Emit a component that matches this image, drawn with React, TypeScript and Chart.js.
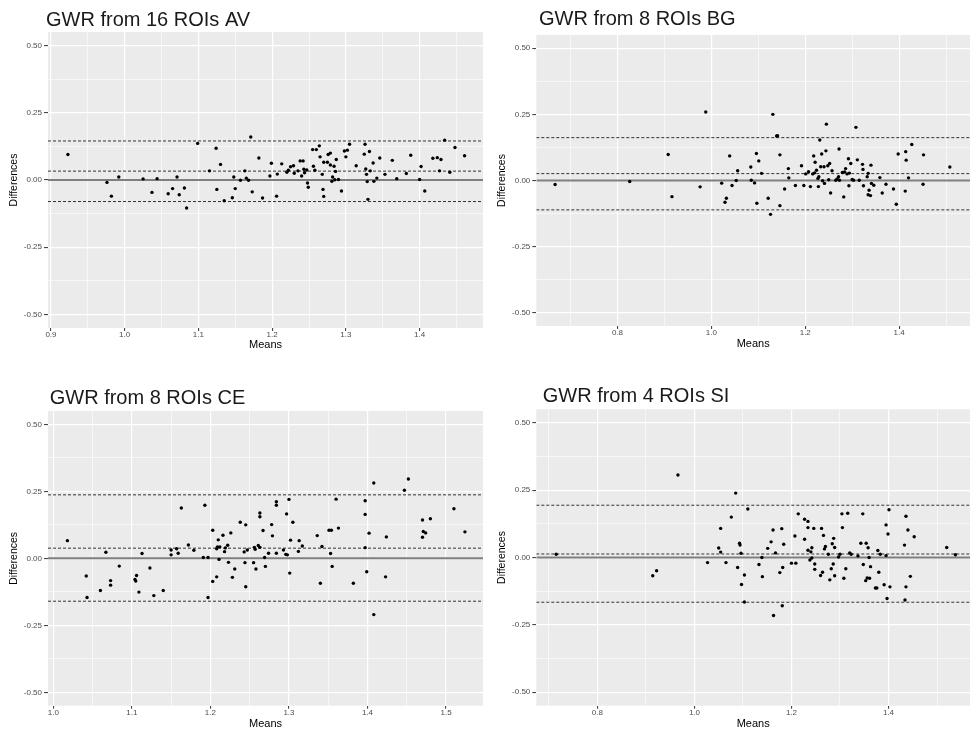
import React, { useEffect, useRef } from "react";
import { Chart, registerables } from "chart.js";

Chart.register(...registerables);

// ---------- DATA ----------
const panelTitles = ["GWR from 16 ROIs AV", "GWR from 8 ROIs BG", "GWR from 8 ROIs CE", "GWR from 4 ROIs SI"];
const xAxisTitle = "Means";
const yAxisTitle = "Differences";
const yTicks = [-0.5, -0.25, 0, 0.25, 0.5];

const avXTicks = [0.9, 1.0, 1.1, 1.2, 1.3, 1.4];
const bgXTicks = [0.8, 1.0, 1.2, 1.4];
const ceXTicks = [1.0, 1.1, 1.2, 1.3, 1.4, 1.5];
const siXTicks = [0.8, 1.0, 1.2, 1.4];

// [upper limit, mean difference, lower limit]
const avLimits = [0.145, 0.033, -0.08];
const bgLimits = [0.162, 0.026, -0.111];
const ceLimits = [0.237, 0.038, -0.16];
const siLimits = [0.194, 0.013, -0.166];

const avMeans = [0.923, 0.976, 0.982, 0.992, 1.025, 1.037, 1.044, 1.059, 1.065, 1.071, 1.074, 1.081, 1.084, 1.099, 1.115, 1.124, 1.125, 1.13, 1.135, 1.146, 1.148, 1.15, 1.157, 1.163, 1.165, 1.168, 1.171, 1.173, 1.182, 1.187, 1.197, 1.199, 1.206, 1.207, 1.213, 1.22, 1.222, 1.225, 1.229, 1.23, 1.235, 1.238, 1.24, 1.242, 1.243, 1.244, 1.247, 1.248, 1.249, 1.255, 1.256, 1.258, 1.26, 1.264, 1.265, 1.268, 1.269, 1.27, 1.27, 1.275, 1.276, 1.279, 1.279, 1.281, 1.282, 1.284, 1.285, 1.286, 1.287, 1.29, 1.294, 1.298, 1.3, 1.302, 1.305, 1.314, 1.325, 1.326, 1.327, 1.328, 1.329, 1.33, 1.332, 1.333, 1.337, 1.338, 1.342, 1.346, 1.353, 1.363, 1.369, 1.382, 1.388, 1.4, 1.402, 1.407, 1.418, 1.424, 1.427, 1.429, 1.434, 1.441, 1.448, 1.461];
const avDiffs = [0.095, -0.009, -0.06, 0.011, 0.004, -0.046, 0.005, -0.051, -0.032, 0.011, -0.055, -0.03, -0.104, 0.136, 0.034, 0.118, -0.035, 0.058, -0.077, -0.066, 0.011, -0.032, -0.001, 0.034, 0.007, -0.001, 0.16, -0.044, 0.082, -0.067, 0.015, 0.062, -0.06, 0.022, 0.06, 0.029, 0.036, 0.049, 0.053, 0.025, 0.034, 0.071, 0.015, 0.071, 0.04, 0.027, 0.037, -0.011, -0.027, 0.113, 0.051, 0.036, 0.113, 0.127, 0.086, 0.021, -0.035, 0.066, -0.061, 0.066, 0.095, 0.1, 0.056, -0.005, 0.011, 0.051, 0.001, 0.032, 0.076, 0.002, -0.041, 0.108, 0.086, 0.111, 0.133, 0.053, 0.096, 0.133, 0.041, 0.021, -0.006, -0.072, 0.106, 0.034, 0.063, -0.005, 0.007, 0.082, 0.021, 0.073, 0.005, 0.024, 0.092, 0.002, 0.05, -0.041, 0.081, 0.083, 0.034, 0.076, 0.148, 0.029, 0.121, 0.09];

const bgMeans = [0.667, 0.826, 0.908, 0.916, 0.976, 0.988, 1.022, 1.029, 1.032, 1.039, 1.044, 1.053, 1.056, 1.084, 1.085, 1.092, 1.096, 1.097, 1.101, 1.107, 1.121, 1.126, 1.131, 1.139, 1.141, 1.146, 1.146, 1.156, 1.164, 1.165, 1.179, 1.192, 1.197, 1.201, 1.207, 1.211, 1.216, 1.218, 1.22, 1.221, 1.224, 1.227, 1.228, 1.229, 1.231, 1.233, 1.235, 1.237, 1.24, 1.241, 1.244, 1.245, 1.248, 1.25, 1.252, 1.254, 1.257, 1.265, 1.268, 1.271, 1.272, 1.273, 1.279, 1.282, 1.284, 1.286, 1.289, 1.292, 1.293, 1.294, 1.297, 1.3, 1.303, 1.308, 1.311, 1.315, 1.322, 1.323, 1.324, 1.332, 1.334, 1.334, 1.336, 1.339, 1.34, 1.341, 1.346, 1.359, 1.364, 1.372, 1.388, 1.394, 1.398, 1.413, 1.414, 1.415, 1.42, 1.427, 1.451, 1.452, 1.508];
const bgDiffs = [-0.015, -0.004, 0.098, -0.061, -0.024, 0.259, -0.01, -0.082, -0.067, 0.093, -0.019, 0.0, 0.037, 0.051, 0.001, -0.009, 0.102, -0.086, 0.074, 0.027, -0.067, -0.128, 0.25, 0.168, 0.169, 0.097, -0.095, -0.032, 0.045, 0.01, -0.019, 0.056, -0.019, 0.025, 0.033, -0.023, 0.025, 0.093, 0.029, 0.069, 0.039, 0.008, -0.023, 0.014, 0.153, 0.052, 0.1, -0.001, 0.052, -0.011, 0.112, 0.213, 0.056, 0.003, 0.064, -0.047, 0.037, 0.001, 0.006, 0.014, 0.119, 0.001, 0.03, -0.062, 0.032, 0.045, 0.025, 0.082, -0.02, 0.028, 0.064, 0.004, 0.001, 0.201, 0.078, 0.001, 0.061, 0.042, -0.02, 0.014, 0.027, -0.054, -0.037, -0.057, 0.058, -0.011, -0.018, 0.011, -0.047, -0.014, -0.032, -0.09, 0.1, -0.04, 0.109, 0.077, 0.01, 0.136, -0.014, 0.097, 0.051];

const ceMeans = [1.018, 1.042, 1.043, 1.06, 1.067, 1.073, 1.073, 1.084, 1.104, 1.105, 1.106, 1.109, 1.113, 1.123, 1.128, 1.14, 1.15, 1.15, 1.157, 1.159, 1.163, 1.172, 1.179, 1.191, 1.193, 1.197, 1.197, 1.203, 1.203, 1.208, 1.208, 1.209, 1.21, 1.211, 1.212, 1.216, 1.218, 1.219, 1.222, 1.223, 1.226, 1.228, 1.231, 1.238, 1.243, 1.244, 1.245, 1.245, 1.247, 1.255, 1.256, 1.257, 1.258, 1.261, 1.263, 1.263, 1.263, 1.267, 1.269, 1.27, 1.274, 1.278, 1.279, 1.284, 1.284, 1.284, 1.293, 1.296, 1.297, 1.298, 1.3, 1.301, 1.302, 1.305, 1.312, 1.313, 1.317, 1.336, 1.34, 1.342, 1.351, 1.354, 1.353, 1.355, 1.36, 1.363, 1.382, 1.397, 1.397, 1.397, 1.399, 1.402, 1.408, 1.408, 1.423, 1.424, 1.447, 1.452, 1.47, 1.47, 1.471, 1.474, 1.48, 1.51, 1.524];
const ceDiffs = [0.066, -0.066, -0.146, -0.12, 0.023, -0.083, -0.1, -0.029, -0.079, -0.085, -0.064, -0.126, 0.018, -0.036, -0.139, -0.12, 0.031, 0.013, 0.036, 0.019, 0.188, 0.05, 0.03, 0.003, 0.198, 0.003, -0.146, -0.086, 0.105, -0.069, 0.036, 0.043, 0.069, -0.004, 0.043, 0.086, 0.025, 0.039, 0.049, -0.015, 0.095, -0.071, -0.04, 0.135, 0.024, -0.016, 0.125, -0.106, 0.031, -0.016, 0.041, 0.034, -0.04, 0.048, 0.169, 0.041, 0.155, 0.104, 0.003, -0.03, 0.019, 0.126, 0.084, 0.211, 0.198, 0.019, 0.031, 0.015, 0.166, 0.013, 0.22, -0.055, 0.068, 0.135, 0.026, 0.066, 0.046, 0.085, -0.093, 0.044, 0.105, 0.105, 0.018, -0.03, 0.221, 0.113, -0.093, 0.164, 0.215, 0.04, -0.05, 0.094, 0.281, -0.21, -0.069, 0.08, 0.254, 0.296, 0.143, 0.079, 0.1, 0.095, 0.148, 0.185, 0.099];

const siMeans = [0.715, 0.914, 0.922, 0.966, 1.027, 1.05, 1.054, 1.054, 1.065, 1.076, 1.085, 1.089, 1.093, 1.094, 1.096, 1.097, 1.103, 1.103, 1.11, 1.133, 1.139, 1.14, 1.151, 1.158, 1.162, 1.163, 1.167, 1.176, 1.18, 1.181, 1.182, 1.184, 1.2, 1.207, 1.209, 1.214, 1.227, 1.227, 1.234, 1.234, 1.234, 1.238, 1.24, 1.242, 1.242, 1.246, 1.248, 1.248, 1.26, 1.262, 1.264, 1.266, 1.268, 1.27, 1.276, 1.279, 1.282, 1.284, 1.286, 1.287, 1.289, 1.289, 1.297, 1.3, 1.304, 1.305, 1.308, 1.312, 1.316, 1.32, 1.323, 1.337, 1.343, 1.347, 1.348, 1.353, 1.354, 1.356, 1.358, 1.36, 1.361, 1.363, 1.373, 1.376, 1.378, 1.38, 1.383, 1.391, 1.395, 1.395, 1.397, 1.399, 1.401, 1.403, 1.433, 1.434, 1.436, 1.436, 1.44, 1.445, 1.453, 1.52, 1.538];
const siDiffs = [0.012, -0.068, -0.049, 0.306, -0.019, 0.035, 0.108, 0.02, -0.019, 0.15, 0.239, -0.037, 0.053, 0.046, 0.016, -0.1, -0.065, -0.165, 0.18, -0.026, 0.0, -0.071, 0.034, 0.058, 0.102, -0.215, 0.017, -0.056, 0.107, -0.179, -0.037, 0.049, -0.021, 0.08, -0.021, 0.162, 0.142, 0.068, 0.134, 0.111, 0.027, -0.009, 0.021, 0.036, -0.002, 0.108, -0.024, -0.044, -0.067, 0.108, -0.055, 0.082, 0.032, 0.041, 0.012, -0.083, -0.042, 0.051, -0.024, 0.071, -0.068, 0.037, 0.002, 0.012, 0.162, 0.111, -0.077, -0.042, 0.164, 0.017, 0.012, 0.006, 0.053, 0.162, -0.026, -0.086, 0.053, -0.076, 0.036, 0.0, -0.077, -0.034, -0.113, -0.113, 0.026, -0.055, 0.012, -0.101, 0.121, 0.007, -0.152, 0.087, 0.177, -0.109, 0.046, -0.158, 0.153, -0.109, 0.102, -0.07, 0.077, 0.037, 0.01];

// ---------- STYLE / LAYOUT ----------
const FONT = '"Liberation Sans", Arial, Helvetica, sans-serif';

type Layout = {
  left: number; top: number;
  padTop: number; padRight: number;
  yWidth: number; xHeight: number;
  xTitlePad: number; yTitlePad: number;
  titleX: number; titleBaseline: number;
  xMin: number; xMax: number;
};

type PanelDef = {
  title: string; means: number[]; diffs: number[]; limits: number[]; xTicks: number[]; xDigits: number; layout: Layout;
};

const panels: PanelDef[] = [
  { title: panelTitles[0], means: avMeans, diffs: avDiffs, limits: avLimits, xTicks: avXTicks, xDigits: 1,
    layout: { left: 0, top: 0, padTop: 32, padRight: 0, yWidth: 48, xHeight: 37, xTitlePad: 14.5, yTitlePad: 8.75, titleX: 46, titleBaseline: 26, xMin: 0.896, xMax: 1.486 } },
  { title: panelTitles[1], means: bgMeans, diffs: bgDiffs, limits: bgLimits, xTicks: bgXTicks, xDigits: 1,
    layout: { left: 487, top: 0, padTop: 35, padRight: 1.3, yWidth: 49.3, xHeight: 39, xTitlePad: 15.5, yTitlePad: 9.75, titleX: 52, titleBaseline: 25, xMin: 0.627, xMax: 1.551 } },
  { title: panelTitles[2], means: ceMeans, diffs: ceDiffs, limits: ceLimits, xTicks: ceXTicks, xDigits: 1,
    layout: { left: 0, top: 365, padTop: 46, padRight: 0, yWidth: 48, xHeight: 24.3, xTitlePad: 0.5, yTitlePad: 8.75, titleX: 49.7, titleBaseline: 39.3, xMin: 0.9933, xMax: 1.547 } },
  { title: panelTitles[3], means: siMeans, diffs: siDiffs, limits: siLimits, xTicks: siXTicks, xDigits: 1,
    layout: { left: 487, top: 365, padTop: 44.3, padRight: 0, yWidth: 49.3, xHeight: 24.3, xTitlePad: 0.5, yTitlePad: 9.75, titleX: 55.7, titleBaseline: 36.7, xMin: 0.674, xMax: 1.568 } },
];

function withMinors(major: number[], lo: number, hi: number): number[] {
  const step = major[1] - major[0];
  const out: number[] = [];
  for (let i = -1; i < major.length; i++) {
    const m = Math.round((major[0] + (i + 0.5) * step) * 1e6) / 1e6;
    if (m >= lo && m <= hi) out.push(m);
  }
  return major.concat(out).sort((a, b) => a - b);
}

const isIn = (arr: number[], v: number) => arr.some((a) => Math.abs(a - v) < 1e-6);

const bgPlugin = {
  id: "panelBg",
  beforeDraw(chart: any) {
    const { ctx, chartArea } = chart;
    ctx.save();
    ctx.fillStyle = "#EBEBEB";
    ctx.fillRect(chartArea.left, chartArea.top, chartArea.right - chartArea.left, chartArea.bottom - chartArea.top);
    ctx.restore();
  },
};

const titlePlugin = {
  id: "panelTitle",
  afterDraw(chart: any, _args: any, opts: any) {
    const { ctx } = chart;
    ctx.save();
    ctx.font = `20px ${FONT}`;
    ctx.fillStyle = "#1a1a1a";
    ctx.textAlign = "left";
    ctx.textBaseline = "alphabetic";
    ctx.fillText(opts.text, opts.x, opts.y);
    ctx.restore();
  },
};

function Panel({ def }: { def: PanelDef }) {
  const ref = useRef<HTMLCanvasElement | null>(null);
  useEffect(() => {
    if (!ref.current) return;
    const L = def.layout;
    const xAll = withMinors(def.xTicks, L.xMin, L.xMax);
    const yAll = withMinors(yTicks, -0.55, 0.55);
    const hline = (v: number, color: string, width: number, dash: number[], order: number) => ({
      data: [{ x: L.xMin, y: v }, { x: L.xMax, y: v }],
      showLine: true,
      borderColor: color,
      borderWidth: width,
      borderDash: dash,
      pointRadius: 0,
      pointHoverRadius: 0,
      order,
    });
    const chart = new Chart(ref.current, {
      type: "scatter",
      data: {
        datasets: [
          {
            data: def.means.map((m, i) => ({ x: m, y: def.diffs[i] })),
            pointRadius: 1.7,
            pointBackgroundColor: "#000",
            pointBorderWidth: 0,
            order: 0,
          } as any,
          hline(0, "#7f7f7f", 2, [], 3),
          ...def.limits.map((v) => hline(v, "#333333", 1, [3, 2], 2)),
        ],
      },
      options: {
        animation: false,
        responsive: false,
        devicePixelRatio: 1,
        events: [],
        layout: { padding: { top: L.padTop, right: L.padRight, left: 0, bottom: 0 } },
        plugins: {
          legend: { display: false },
          tooltip: { enabled: false },
          panelTitle: { text: def.title, x: L.titleX, y: L.titleBaseline },
        } as any,
        scales: {
          x: {
            type: "linear",
            min: L.xMin,
            max: L.xMax,
            afterBuildTicks: (s: any) => { s.ticks = xAll.map((v) => ({ value: v })); },
            afterFit: (s: any) => { s.height = L.xHeight; },
            ticks: {
              autoSkip: false,
              maxRotation: 0,
              minRotation: 0,
              padding: 0,
              color: "#4D4D4D",
              font: { size: 8, family: FONT, lineHeight: 1 },
              callback: (v: any) => (isIn(def.xTicks, Number(v)) ? Number(v).toFixed(def.xDigits) : ""),
            },
            grid: {
              color: "#FFFFFF",
              lineWidth: (c: any) => (c.tick && isIn(def.xTicks, c.tick.value) ? 1.2 : 0.6),
              drawTicks: true,
              tickLength: 3,
              tickWidth: 1,
              tickColor: (c: any) => (c.tick && isIn(def.xTicks, c.tick.value) ? "#333333" : "rgba(0,0,0,0)"),
            },
            border: { display: false },
            title: {
              display: true,
              text: xAxisTitle,
              color: "#000",
              font: { size: 11, family: FONT, lineHeight: 1 },
              padding: { top: 0, bottom: L.xTitlePad },
            },
          },
          y: {
            type: "linear",
            min: -0.55,
            max: 0.55,
            afterBuildTicks: (s: any) => { s.ticks = yAll.map((v) => ({ value: v })); },
            afterFit: (s: any) => { s.width = L.yWidth; },
            ticks: {
              autoSkip: false,
              padding: 2,
              color: "#4D4D4D",
              font: { size: 8, family: FONT, lineHeight: 1 },
              callback: (v: any) => (isIn(yTicks, Number(v)) ? Number(v).toFixed(2) : ""),
            },
            grid: {
              color: "#FFFFFF",
              lineWidth: (c: any) => (c.tick && isIn(yTicks, c.tick.value) ? 1.2 : 0.6),
              drawTicks: true,
              tickLength: 4,
              tickWidth: 1,
              tickColor: (c: any) => (c.tick && isIn(yTicks, c.tick.value) ? "#333333" : "rgba(0,0,0,0)"),
            },
            border: { display: false },
            title: {
              display: true,
              text: yAxisTitle,
              color: "#000",
              font: { size: 10.5, family: FONT, lineHeight: 1 },
              padding: { top: L.yTitlePad, bottom: 0 },
            },
          },
        },
      } as any,
      plugins: [bgPlugin, titlePlugin],
    });
    return () => chart.destroy();
  }, [def]);

  const L = def.layout;
  return (
    <div style={{ position: "absolute", left: L.left, top: L.top, width: 487, height: 365 }}>
      <canvas ref={ref} width={487} height={365} style={{ width: 487, height: 365, display: "block" }} />
    </div>
  );
}

export default function App() {
  return (
    <div style={{ position: "fixed", left: 0, top: 0, width: 974, height: 730, background: "#FFFFFF", overflow: "hidden" }}>
      {panels.map((p, i) => (
        <Panel key={i} def={p} />
      ))}
    </div>
  );
}
